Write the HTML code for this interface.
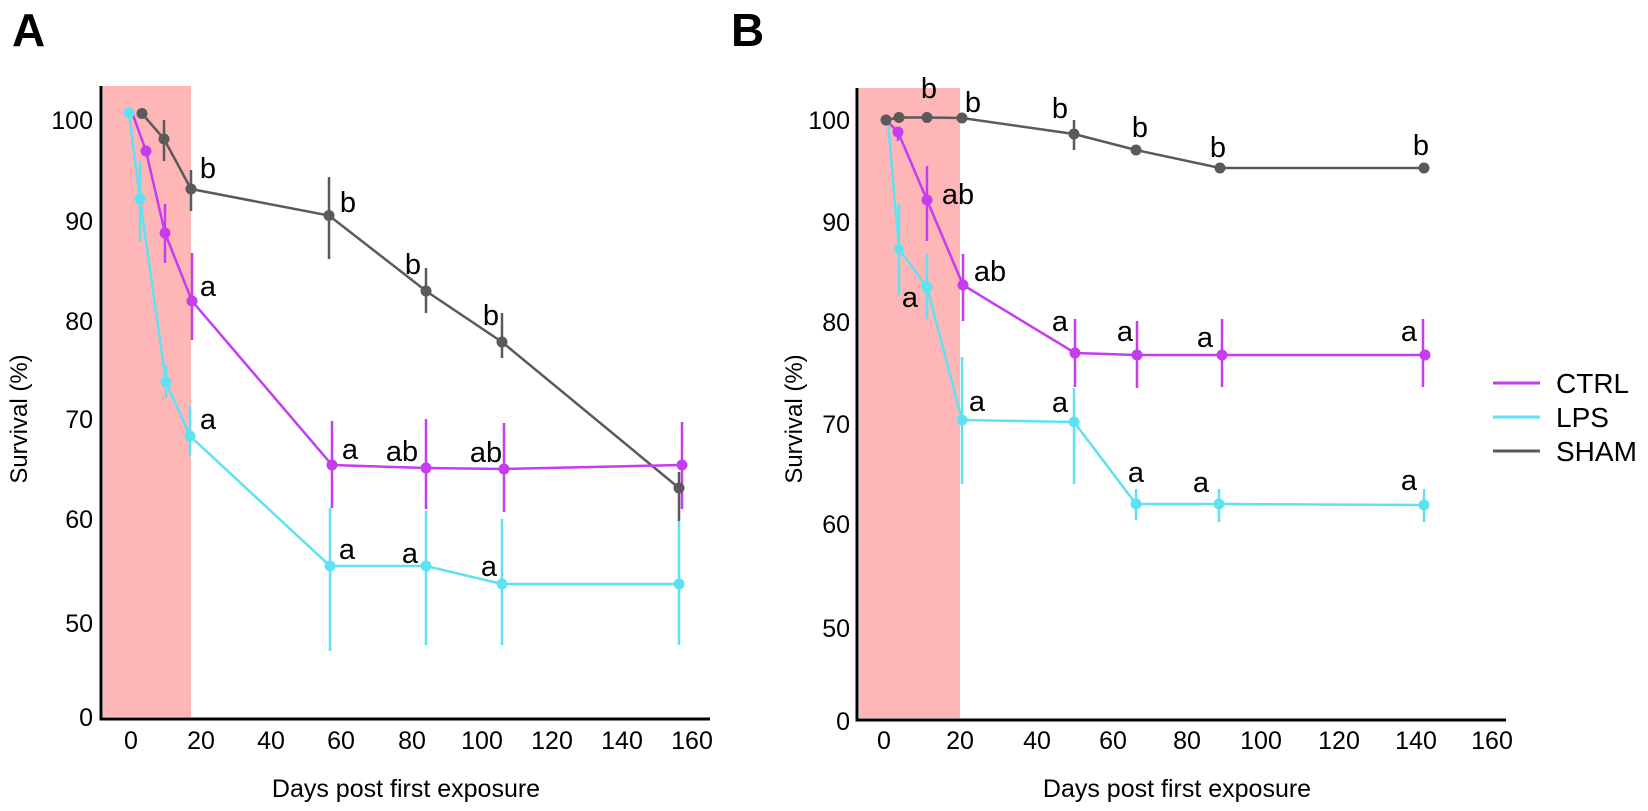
<!DOCTYPE html>
<html><head><meta charset="utf-8"><style>
html,body{margin:0;padding:0;background:#fff;}
svg{display:block;font-family:"Liberation Sans",Arial,sans-serif;}
</style></head><body>
<svg width="1648" height="811" viewBox="0 0 1648 811" xmlns="http://www.w3.org/2000/svg">
<rect width="1648" height="811" fill="#fff"/>
<text x="12" y="46" font-size="46" font-weight="bold">A</text>
<text x="731" y="46" font-size="46" font-weight="bold">B</text>

<!-- Panel A -->
<rect x="103" y="86" width="88" height="631" fill="#ffb6b6"/>
<g stroke="#000" stroke-width="3" fill="none"><polyline points="101,86 101,719 710,719"/></g>
<g font-size="25" text-anchor="end">
<text x="93" y="129">100</text><text x="93" y="230">90</text><text x="93" y="330">80</text><text x="93" y="428">70</text><text x="93" y="528">60</text><text x="93" y="632">50</text><text x="93" y="726">0</text>
</g>
<g font-size="25" text-anchor="middle">
<text x="131" y="749">0</text><text x="201" y="749">20</text><text x="271" y="749">40</text><text x="341" y="749">60</text><text x="412" y="749">80</text><text x="482" y="749">100</text><text x="552" y="749">120</text><text x="622" y="749">140</text><text x="692" y="749">160</text>
</g>
<text x="406" y="797" font-size="25" text-anchor="middle">Days post first exposure</text>
<text transform="translate(27,419) rotate(-90)" font-size="24" text-anchor="middle">Survival (%)</text>

<g stroke-width="2.5" fill="none">
<g stroke="#5a5a5a"><polyline points="142,113.5 164,139 191,189 329,215.5 426,291 502,342 679,488"/>
<line x1="164" y1="120" x2="164" y2="161"/><line x1="191" y1="170" x2="191" y2="211"/><line x1="329" y1="177" x2="329" y2="259"/><line x1="426" y1="268" x2="426" y2="313"/><line x1="502" y1="313" x2="502" y2="358"/><line x1="679" y1="472" x2="679" y2="521"/></g>
<g stroke="#c63cf0"><polyline points="133,115 146,151 165,233 192,301 332,465 426,468 504,469 682,465"/>
<line x1="165" y1="204" x2="165" y2="263"/><line x1="192" y1="253" x2="192" y2="340"/><line x1="332" y1="421" x2="332" y2="508"/><line x1="426" y1="419" x2="426" y2="509"/><line x1="504" y1="423" x2="504" y2="512"/><line x1="682" y1="422" x2="682" y2="509"/></g>
<g stroke="#5ee2f2"><polyline points="129,113 140,199 166,382 190,436 330,566 426,566 502,584 679,584"/>
<line x1="140" y1="161" x2="140" y2="242"/><line x1="166" y1="366" x2="166" y2="398"/><line x1="190" y1="406" x2="190" y2="456"/><line x1="330" y1="508" x2="330" y2="651"/><line x1="426" y1="511" x2="426" y2="645"/><line x1="502" y1="519" x2="502" y2="645"/><line x1="679" y1="521" x2="679" y2="645"/></g>
</g>
<g fill="#5a5a5a"><circle cx="142" cy="113.5" r="5.5"/><circle cx="164" cy="139" r="5.5"/><circle cx="191" cy="189" r="5.5"/><circle cx="329" cy="215.5" r="5.5"/><circle cx="426" cy="291" r="5.5"/><circle cx="502" cy="342" r="5.5"/><circle cx="679" cy="488" r="5.5"/></g>
<g fill="#c63cf0"><circle cx="146" cy="151" r="5.5"/><circle cx="165" cy="233" r="5.5"/><circle cx="192" cy="301" r="5.5"/><circle cx="332" cy="465" r="5.5"/><circle cx="426" cy="468" r="5.5"/><circle cx="504" cy="469" r="5.5"/><circle cx="682" cy="465" r="5.5"/></g>
<g fill="#5ee2f2"><circle cx="129" cy="113" r="5.5"/><circle cx="140" cy="199" r="5.5"/><circle cx="166" cy="382" r="5.5"/><circle cx="190" cy="436" r="5.5"/><circle cx="330" cy="566" r="5.5"/><circle cx="426" cy="566" r="5.5"/><circle cx="502" cy="584" r="5.5"/><circle cx="679" cy="584" r="5.5"/></g>
<g font-size="29" text-anchor="middle">
<text x="208" y="178">b</text><text x="348" y="212">b</text><text x="413" y="274">b</text><text x="491" y="325">b</text>
<text x="208" y="296">a</text><text x="208" y="429">a</text><text x="350" y="459">a</text><text x="402" y="461">ab</text><text x="486" y="462">ab</text>
<text x="347" y="559">a</text><text x="410" y="563">a</text><text x="489" y="576">a</text>
</g>

<!-- Panel B -->
<rect x="859" y="88" width="101" height="630" fill="#ffb6b6"/>
<g stroke="#000" stroke-width="3" fill="none"><polyline points="857,88 857,720 1506,720"/></g>
<g font-size="25" text-anchor="end">
<text x="850" y="129">100</text><text x="850" y="231">90</text><text x="850" y="331">80</text><text x="850" y="433">70</text><text x="850" y="533">60</text><text x="850" y="637">50</text><text x="850" y="730">0</text>
</g>
<g font-size="25" text-anchor="middle">
<text x="884" y="749">0</text><text x="960" y="749">20</text><text x="1037" y="749">40</text><text x="1113" y="749">60</text><text x="1187" y="749">80</text><text x="1261" y="749">100</text><text x="1339" y="749">120</text><text x="1416" y="749">140</text><text x="1492" y="749">160</text>
</g>
<text x="1177" y="797" font-size="25" text-anchor="middle">Days post first exposure</text>
<text transform="translate(802,419) rotate(-90)" font-size="24" text-anchor="middle">Survival (%)</text>

<g stroke-width="2.5" fill="none">
<g stroke="#5a5a5a"><polyline points="886,120 899,117.5 927,117.5 962,118 1074,134 1136,150 1220,168 1424,168"/>
<line x1="1074" y1="120" x2="1074" y2="150"/></g>
<g stroke="#c63cf0"><polyline points="888,122 898,132 927,200 963,285 1075,353 1137,355 1222,355 1425,355"/>
<line x1="898" y1="127" x2="898" y2="141"/><line x1="927" y1="166" x2="927" y2="241"/><line x1="963" y1="254" x2="963" y2="321"/><line x1="1075" y1="319" x2="1075" y2="387"/><line x1="1137" y1="321" x2="1137" y2="388"/><line x1="1222" y1="319" x2="1222" y2="387"/><line x1="1423" y1="319" x2="1423" y2="387"/></g>
<g stroke="#5ee2f2"><polyline points="888,122 899,249 927,287 962,420 1074,422 1136,504 1219,504 1424,505"/>
<line x1="899" y1="204" x2="899" y2="295"/><line x1="927" y1="254" x2="927" y2="319"/><line x1="962" y1="357" x2="962" y2="484"/><line x1="1074" y1="388" x2="1074" y2="484"/><line x1="1136" y1="489" x2="1136" y2="520"/><line x1="1219" y1="489" x2="1219" y2="522"/><line x1="1424" y1="489" x2="1424" y2="522"/></g>
</g>
<g fill="#5a5a5a"><circle cx="886" cy="120" r="5.5"/><circle cx="899" cy="117.5" r="5.5"/><circle cx="927" cy="117.5" r="5.5"/><circle cx="962" cy="118" r="5.5"/><circle cx="1074" cy="134" r="5.5"/><circle cx="1136" cy="150" r="5.5"/><circle cx="1220" cy="168" r="5.5"/><circle cx="1424" cy="168" r="5.5"/></g>
<g fill="#c63cf0"><circle cx="898" cy="132" r="5.5"/><circle cx="927" cy="200" r="5.5"/><circle cx="963" cy="285" r="5.5"/><circle cx="1075" cy="353" r="5.5"/><circle cx="1137" cy="355" r="5.5"/><circle cx="1222" cy="355" r="5.5"/><circle cx="1425" cy="355" r="5.5"/></g>
<g fill="#5ee2f2"><circle cx="899" cy="249" r="5"/><circle cx="927" cy="287" r="5.5"/><circle cx="962" cy="420" r="5.5"/><circle cx="1074" cy="422" r="5.5"/><circle cx="1136" cy="504" r="5.5"/><circle cx="1219" cy="504" r="5.5"/><circle cx="1424" cy="505" r="5.5"/></g>
<g font-size="29" text-anchor="middle">
<text x="929" y="98">b</text><text x="973" y="112">b</text><text x="1060" y="118">b</text><text x="1140" y="137">b</text><text x="1218" y="157">b</text><text x="1421" y="155">b</text>
<text x="958" y="204">ab</text><text x="990" y="281">ab</text><text x="910" y="307">a</text>
<text x="1060" y="331">a</text><text x="1125" y="341">a</text><text x="1205" y="347">a</text><text x="1409" y="341">a</text>
<text x="977" y="411">a</text><text x="1060" y="412">a</text><text x="1136" y="482">a</text><text x="1201" y="492">a</text><text x="1409" y="490">a</text>
</g>

<!-- Legend -->
<g stroke-width="3"><line x1="1493" y1="383" x2="1540" y2="383" stroke="#c63cf0"/><line x1="1493" y1="417" x2="1540" y2="417" stroke="#5ee2f2"/><line x1="1493" y1="451" x2="1540" y2="451" stroke="#5a5a5a"/></g>
<g font-size="28"><text x="1556" y="393">CTRL</text><text x="1556" y="427">LPS</text><text x="1556" y="461">SHAM</text></g>
</svg>
</body></html>
